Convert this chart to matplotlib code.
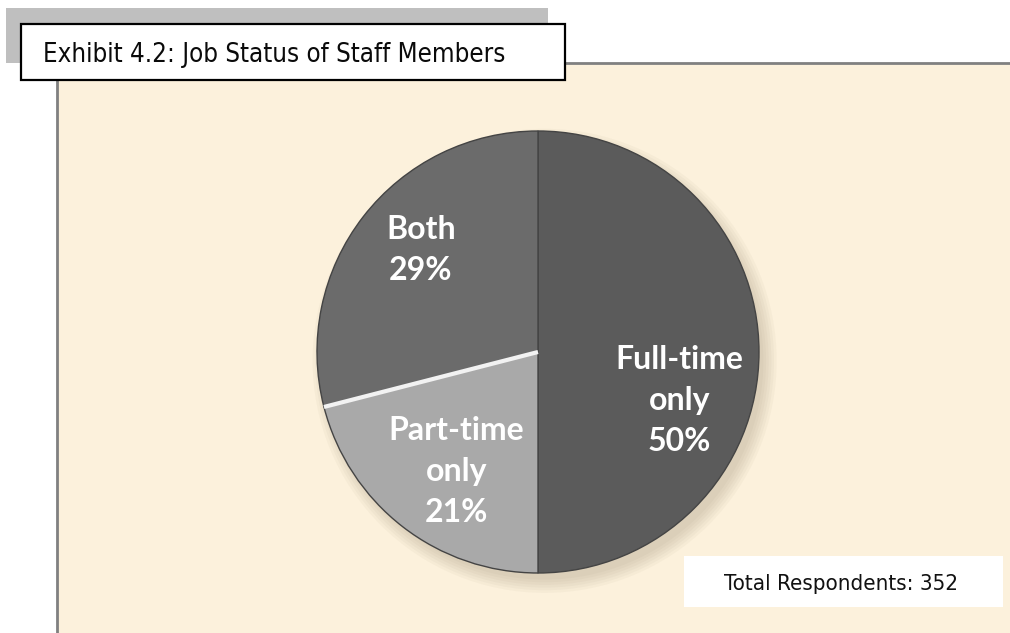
#!/usr/bin/env python3
import matplotlib

matplotlib.use('Agg')
import matplotlib.pyplot as plt
import numpy as np
from matplotlib import font_manager
from matplotlib.patches import Rectangle, Circle

TITLE = 'Exhibit 4.2: Job Status of Staff Members'
NOTE = 'Total Respondents: 352'

categories = ['Full-time\nonly', 'Part-time\nonly', 'Both']
shares = [50, 21, 29]
slice_colors = ['#5b5b5b', '#a9a9a9', '#6b6b6b']

W, H = 1010, 633


def _narrow_font():
    # prefer an Arial Narrow look-alike if one is around
    names = {f.name: f for f in font_manager.fontManager.ttflist}
    for cand in ('Liberation Sans Narrow', 'Arial Narrow', 'DejaVu Sans Condensed'):
        if cand in names:
            return dict(family=[cand, 'DejaVu Sans']), cand
    for f in font_manager.fontManager.ttflist:
        if f.stretch in ('condensed', 'semi-condensed') and 'Sans' in f.name:
            return dict(family=[f.name, 'DejaVu Sans'], stretch=f.stretch), f.name
    return None, None


narrow, narrow_name = _narrow_font()

fig = plt.figure(figsize=(W / 100, H / 100), dpi=100)
fig.patch.set_facecolor('white')

# pixel-space canvas for the frame, title box and note box
bg = fig.add_axes([0, 0, 1, 1])
bg.set_xlim(0, W)
bg.set_ylim(H, 0)
bg.axis('off')

bg.add_patch(Rectangle((57, 63), W, H, facecolor='#fcf1dc', edgecolor='#808080', linewidth=2))
bg.add_patch(Rectangle((6, 8), 542, 55, facecolor='#bfbfbf', edgecolor='none'))
bg.add_patch(Rectangle((21, 24), 544, 56, facecolor='white', edgecolor='black', linewidth=1.6))

if narrow_name in ('Liberation Sans Narrow', 'Arial Narrow'):
    title_kw = dict(narrow, fontsize=20)
    note_kw = dict(narrow, fontsize=19)
elif narrow:
    title_kw = dict(narrow, fontsize=18.5)
    note_kw = dict(narrow, fontsize=16)
else:
    # no narrow face installed: shrink the regular one to the same width
    title_kw = dict(family=['Liberation Sans', 'DejaVu Sans'], fontsize=17)
    note_kw = dict(family=['Liberation Sans', 'DejaVu Sans'], fontsize=16)

bg.text(43, 62, TITLE, ha='left', va='baseline', color='#0a0a0a', **title_kw)

bg.add_patch(Rectangle((684, 556), 319, 51, facecolor='white', edgecolor='none'))
bg.text(841, 590, NOTE, ha='center', va='baseline', color='#111111', **note_kw)

# pie
cx, cy, r = 538, 352, 221
pax = fig.add_axes([(cx - r) / W, (H - cy - r) / H, 2 * r / W, 2 * r / H])
pax.axis('off')

# soft shadow, mostly down and right
for k in range(6):
    pax.add_patch(Circle((0.03, -0.04), 0.99 + 0.012 * k, color='#7a6a50',
                         alpha=0.045, linewidth=0, zorder=0, clip_on=False))

wedges, _ = pax.pie(shares, colors=slice_colors, startangle=90, counterclock=False,
                    radius=1.0, wedgeprops=dict(edgecolor='#444444', linewidth=1.0))
for w in wedges:
    w.set_zorder(2)
pax.set_xlim(-1, 1)
pax.set_ylim(-1, 1)

# light bevel on the part-time / both edge
ang = np.deg2rad(wedges[1].theta1)
pax.plot([0, np.cos(ang)], [0, np.sin(ang)], color='#f2f2f2', linewidth=3, zorder=3,
         solid_capstyle='butt')

# label anchors (pie data units)
label_pos = [(0.64, -0.22), (-0.37, -0.54), (-0.53, 0.46)]
for lab, val, (lx, ly) in zip(categories, shares, label_pos):
    pax.text(lx, ly, f'{lab}\n{val}%', family=['Lato', 'DejaVu Sans'], fontweight='bold',
             fontsize=23, color='white', ha='center', va='center', linespacing=1.5, zorder=4)

fig.savefig('out.png', dpi=100)
